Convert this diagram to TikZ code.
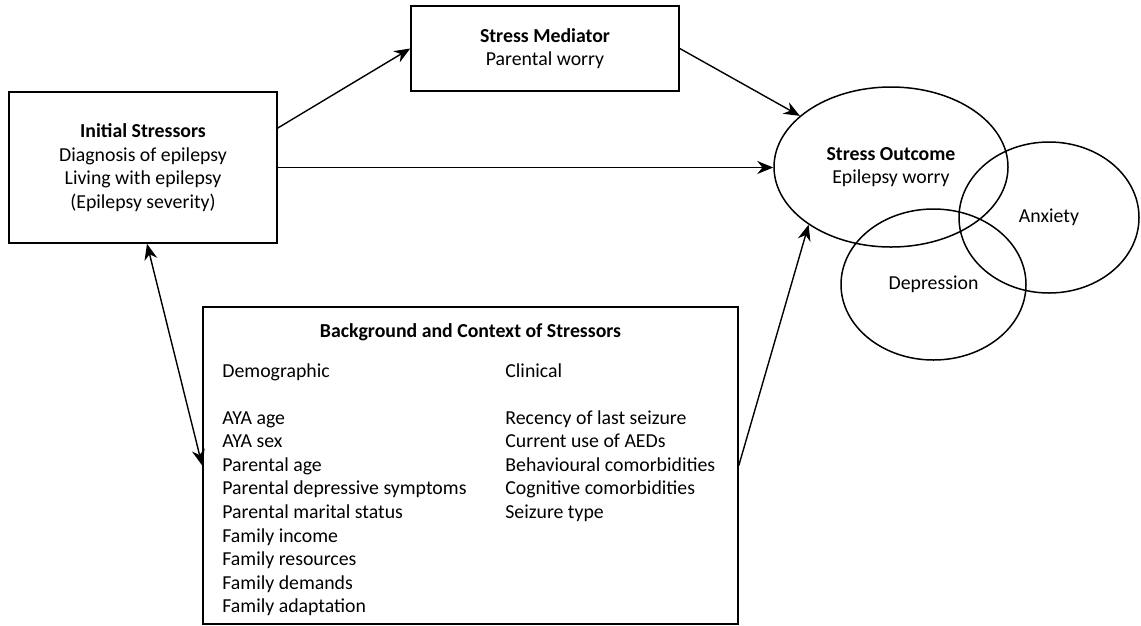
\documentclass[tikz,border=0pt]{standalone}
\usepackage{fontspec}
\setmainfont{Carlito}
\usetikzlibrary{arrows.meta,positioning,shapes.geometric,calc}

\begin{document}
\begin{tikzpicture}[x=1pt, y=-1pt,
    font=\fontsize{19.8}{23.6}\selectfont,
    >={Stealth[length=16pt, width=13pt]},
    box/.style={draw, line width=1.6pt, align=center, inner sep=0pt},
    blob/.style={ellipse, draw, line width=1.5pt, align=center, inner sep=0pt},
    list/.style={align=left, inner sep=0pt, anchor=north west},
    link/.style={->, line width=1.4pt}
  ]
  \useasboundingbox (0,0) rectangle (1141,625);

  \node[box, minimum width=268pt, minimum height=151pt] (init) at (143,167.5) {
    \textbf{Initial Stressors}\\
    Diagnosis of epilepsy\\
    Living with epilepsy\\
    (Epilepsy severity)
  };

  \node[box, minimum width=268pt, minimum height=85pt] (med) at (545,48.5) {
    \textbf{Stress Mediator}\\
    Parental worry
  };

  \node[blob, minimum width=234pt, minimum height=160pt] (outcome) at (891,167) {
    \textbf{Stress Outcome}\\
    Epilepsy worry
  };
  \node[blob, minimum width=180pt, minimum height=151pt] (anx) at (1049,217.5) {Anxiety};
  \node[blob, minimum width=185pt, minimum height=151pt] (dep) at (933.5,284.5) {Depression};

  \node[box, minimum width=535pt, minimum height=317pt] (ctx) at (470.5,465.5) {};
  \node[inner sep=0pt, font=\fontsize{19.8}{23.6}\selectfont\bfseries, below=17pt of ctx.north] (ctxtitle)
    {Background and Context of Stressors};
  \node[list, below right=57pt and 20pt of ctx.north west, anchor=north west] (demo) {
    Demographic\\[23.4pt]
    AYA age\\
    AYA sex\\
    Parental age\\
    Parental depressive symptoms\\
    Parental marital status\\
    Family income\\
    Family resources\\
    Family demands\\
    Family adaptation
  };
  \node[list, below right=57pt and 303pt of ctx.north west, anchor=north west] (clin) {
    Clinical\\[23.4pt]
    Recency of last seizure\\
    Current use of AEDs\\
    Behavioural comorbidities\\
    Cognitive comorbidities\\
    Seizure type
  };

  \draw[link] ([yshift=39.5pt]init.east) -- (med.west);
  \draw[link] (med.east) -- (outcome);
  \draw[link] (init.east) -- (init.east -| outcome.west);
  \draw[link] (ctx.east) -- (outcome.215);
  \draw[<->, line width=1.4pt] ([xshift=4pt]init.south) -- (ctx.west);
\end{tikzpicture}
\end{document}
